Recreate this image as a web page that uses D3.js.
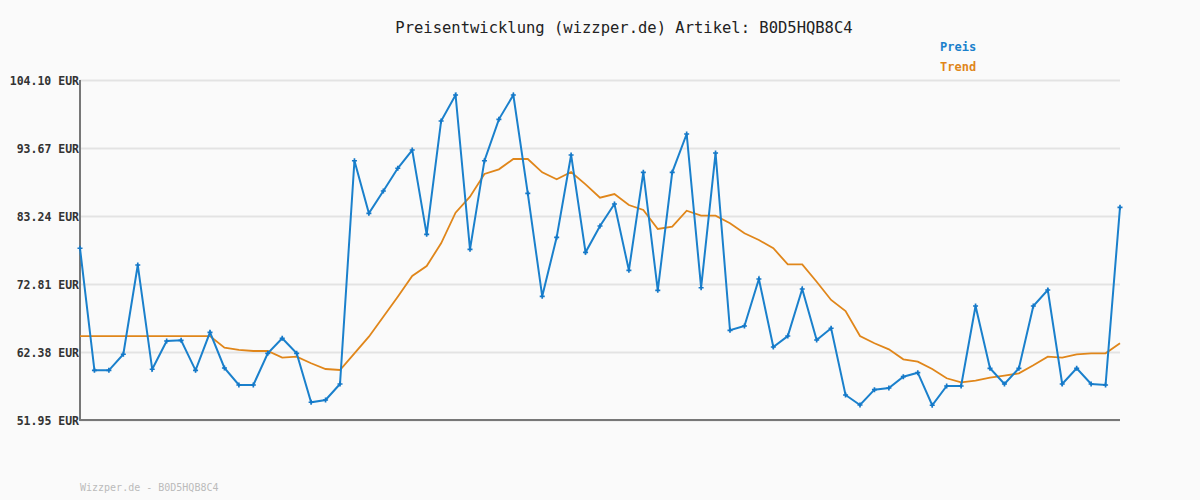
<!DOCTYPE html>
<html><head><meta charset="utf-8">
<script src="https://cdn.jsdelivr.net/npm/d3@7"></script>
<style>body{margin:0;background:#fafafa}svg{display:block}text{font-family:"DejaVu Sans Mono",monospace}</style>
</head><body><svg id="c" width="1200" height="500"></svg>
<script>
const title = "Preisentwicklung (wizzper.de) Artikel: B0D5HQB8C4";
const yTicks = [51.95, 62.38, 72.81, 83.24, 93.67, 104.10];
const preis = [78.29,59.57,59.57,62.03,75.72,59.73,64.07,64.17,59.57,65.40,59.93,57.32,57.32,62.18,64.48,62.18,54.67,55.02,57.47,91.72,83.65,87.07,90.56,93.36,80.43,97.81,101.80,78.13,
91.72,98.07,101.80,86.72,70.92,79.97,92.60,77.67,81.71,85.08,74.91,89.94,71.84,89.94,95.82,72.24,92.90,65.71,66.37,73.58,63.15,64.83,72.04,64.22,
66.02,55.79,54.25,56.60,56.86,58.59,59.21,54.21,57.17,57.17,69.44,59.88,57.47,59.88,69.44,71.89,57.47,59.88,57.47,57.32,84.57];
const trend = [64.83,64.83,64.83,64.83,64.83,64.83,64.83,64.83,64.83,64.83,63.04,62.69,62.53,62.53,61.51,61.66,60.65,59.77,59.62,62.18,64.73,67.79,70.86,74.04,75.57,79.05,83.75,86.20,
89.68,90.40,91.98,91.98,89.94,88.87,89.99,88.10,86.05,86.61,84.93,84.16,81.25,81.60,84.05,83.29,83.29,82.12,80.59,79.56,78.29,75.83,75.83,73.16,
70.36,68.67,64.83,63.72,62.79,61.26,60.89,59.77,58.35,57.73,57.98,58.44,58.75,59.11,60.34,61.66,61.51,62.03,62.18,62.18,63.72];
const footer = "Wizzper.de - B0D5HQB8C4";

const svg = d3.select("#c");
const L=80,R=1120,T=80,B=420;
const x = d3.scaleLinear().domain([0,preis.length-1]).range([L,R]);
const y = d3.scaleLinear().domain([51.95,104.10]).range([B,T]);

svg.append("text").attr("x",624).attr("y",33).attr("text-anchor","middle")
  .attr("font-size",15.5).attr("fill","#222").text(title);

const ax = svg.append("g").attr("transform",`translate(${L},0)`)
  .call(d3.axisLeft(y).tickValues(yTicks).tickSize(-(R-L)).tickFormat(d=>d.toFixed(2)+" EUR"));
ax.select(".domain").remove();
ax.selectAll(".tick line").attr("stroke","#e3e3e3").attr("stroke-width",2);
ax.selectAll(".tick text").attr("x",0).attr("dx",0).attr("font-size",11.5).attr("font-weight","bold").attr("fill","#333")
  .attr("font-family","DejaVu Sans Mono").attr("dy","0.35em").attr("text-anchor","end").attr("transform","translate(-1,0)");

svg.append("path").attr("d",`M${L},${T}V${B}H${R}`).attr("fill","none").attr("stroke","#777").attr("stroke-width",2);

const line = d3.line().x((d,i)=>x(i)).y(d=>y(d));
svg.append("path").datum(trend).attr("d",line).attr("fill","none").attr("stroke","#e0861a").attr("stroke-width",1.8);
svg.append("path").datum(preis).attr("d",line).attr("fill","none").attr("stroke","#1a80cc").attr("stroke-width",2);
svg.append("g").selectAll("path").data(preis).join("path")
  .attr("transform",(d,i)=>`translate(${x(i)},${y(d)})`)
  .attr("d",d3.symbol(d3.symbolCross,14)).attr("fill","#1478c8");

svg.append("text").attr("x",940).attr("y",51).attr("font-size",12).attr("font-weight","bold").attr("fill","#1a80cc").text("Preis");
svg.append("text").attr("x",940).attr("y",71).attr("font-size",12).attr("font-weight","bold").attr("fill","#e0861a").text("Trend");
svg.append("text").attr("x",80).attr("y",491).attr("font-size",10).attr("fill","#bbb").text(footer);
</script></body></html>
